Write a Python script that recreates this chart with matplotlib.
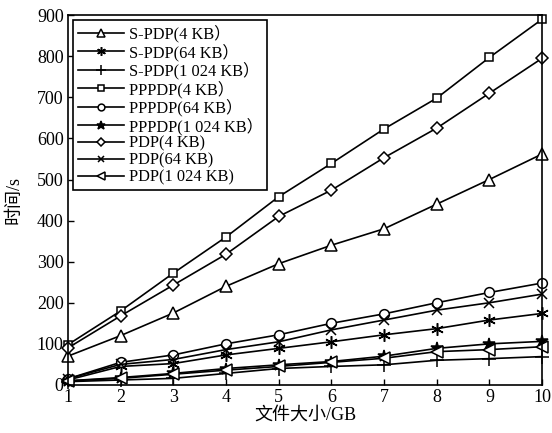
import matplotlib
matplotlib.use("Agg")
import matplotlib.pyplot as plt

plt.rcParams['font.family'] = ['Liberation Serif', 'Noto Sans CJK SC', 'DejaVu Sans']

x = [1, 2, 3, 4, 5, 6, 7, 8, 9, 10]
spdp_4 = [70, 120, 175, 240, 295, 340, 380, 440, 500, 562]
spdp_64 = [12, 45, 52, 73, 89, 105, 122, 137, 158, 174]
spdp_1024 = [8, 12, 16, 28, 40, 45, 49, 60, 64, 69]
pppdp_4 = [98, 180, 272, 360, 458, 539, 623, 698, 797, 890]
pppdp_64 = [15, 55, 73, 100, 122, 150, 173, 200, 225, 248]
pppdp_1024 = [10, 18, 28, 40, 49, 57, 70, 89, 100, 106]
pdp_4 = [90, 168, 243, 318, 410, 474, 553, 625, 710, 795]
pdp_64 = [15, 50, 62, 86, 105, 134, 158, 182, 200, 221]
pdp_1024 = [10, 16, 26, 36, 45, 55, 65, 81, 86, 93]

labels = ['S-PDP(4 KB\uff09', 'S-PDP(64 KB\uff09', 'S-PDP(1 024 KB\uff09',
          'PPPDP(4 KB\uff09', 'PPPDP(64 KB\uff09', 'PPPDP(1 024 KB\uff09',
          'PDP(4 KB)', 'PDP(64 KB)', 'PDP(1 024 KB)']
series = [spdp_4, spdp_64, spdp_1024, pppdp_4, pppdp_64, pppdp_1024, pdp_4, pdp_64, pdp_1024]

styles = [
    dict(marker='^', ms=8, mfc='white'),
    dict(marker=(6, 2, 0), ms=9, mfc='black'),
    dict(marker='+', ms=10, mfc='black'),
    dict(marker='s', ms=6, mfc='white'),
    dict(marker='o', ms=7, mfc='white'),
    dict(marker='*', ms=9, mfc='black'),
    dict(marker='D', ms=6.5, mfc='white'),
    dict(marker='x', ms=7, mfc='black'),
    dict(marker='<', ms=8, mfc='white'),
]

fig = plt.figure(figsize=(5.52, 4.33), dpi=100)
ax = fig.add_axes([0.123, 0.111, 0.859, 0.854])

for ys, lab, st in zip(series, labels, styles):
    ax.plot(x, ys, color='black', lw=1.2, mec='black', mew=1.1, label=lab, clip_on=False, **st)

ax.set_xlim(1, 10)
ax.set_ylim(0, 900)
ax.set_xticks(range(1, 11))
ax.set_yticks(range(0, 901, 100))
ax.tick_params(direction='in', length=4, width=1, labelsize=13, top=False, right=False, pad=3)
for sp in ax.spines.values():
    sp.set_linewidth(1.2)

ax.set_xlabel('文件大小/GB', fontsize=13, labelpad=0)
ax.set_ylabel('时间/s', fontsize=13)
ax.yaxis.set_label_coords(-0.095, 0.5)

leg = ax.legend(loc='upper left', fontsize=11.8, frameon=True, fancybox=False,
                edgecolor='black', framealpha=1, handlelength=2.8, handletextpad=0.3,
                labelspacing=0.05, borderpad=0.3, borderaxespad=0.3, markerscale=0.7)
leg.get_frame().set_linewidth(1.2)

fig.savefig('out.png', dpi=100)
